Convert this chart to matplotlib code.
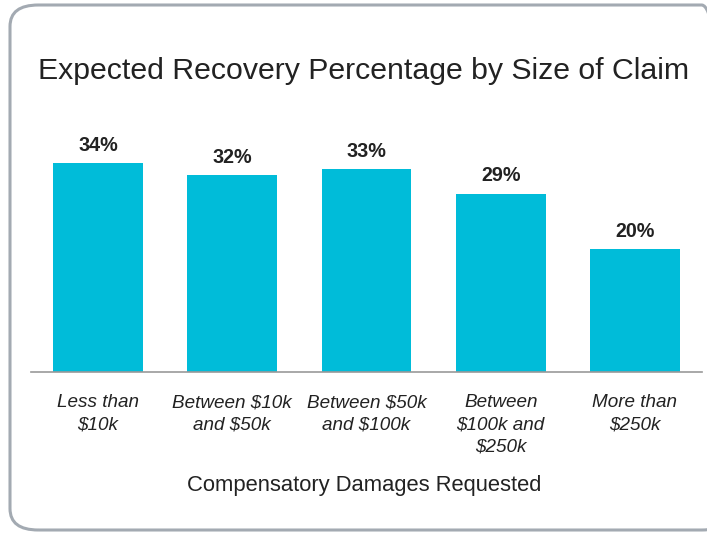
import matplotlib
matplotlib.use("Agg")
import matplotlib.pyplot as plt
from matplotlib.patches import FancyBboxPatch

categories = ["Less than\n$10k", "Between $10k\nand $50k", "Between $50k\nand $100k",
              "Between\n$100k and\n$250k", "More than\n$250k"]
recovery_pct = [34, 32, 33, 29, 20]

plt.rcParams['font.family'] = ['Liberation Sans', 'DejaVu Sans']

W, H = 707, 535
fig = plt.figure(figsize=(W / 100, H / 100), dpi=100)

# rounded frame around the whole chart (right edge runs off the picture)
frame = FancyBboxPatch((10 / W, 5 / H), 720 / W, 525 / H,
                       boxstyle="round,pad=0,rounding_size=0.04",
                       transform=fig.transFigure, fill=False,
                       edgecolor='#a3aab2', linewidth=2.2)
fig.patches.append(frame)

# axes: left 31px, right 702px, baseline at 372px, 40% at ~126px
ax = fig.add_axes([31 / W, (H - 372) / H, 671 / W, 246 / H])
x = range(len(categories))
bars = ax.bar(x, recovery_pct, width=0.67, color='#00bcd9')
ax.set_xlim(-0.5, 4.5)
ax.set_ylim(0, 40)

for b, v in zip(bars, recovery_pct):
    ax.annotate(f"{v}%", (b.get_x() + b.get_width() / 2, v), xytext=(0, 6),
                textcoords='offset points', ha='center', va='bottom',
                fontsize=14.2, fontweight='bold', color='#222222')

ax.set_xticks(list(x))
ax.set_xticklabels(categories, fontsize=13.6, style='italic', color='#222222',
                   linespacing=1.4, va='top')
ax.tick_params(axis='x', length=0, pad=16)
ax.set_yticks([])
for s in ['top', 'right', 'left']:
    ax.spines[s].set_visible(False)
ax.spines['bottom'].set_color('#999999')
ax.spines['bottom'].set_linewidth(1.2)

fig.text(364 / W, 1 - 71 / H, "Expected Recovery Percentage by Size of Claim",
         ha='center', va='center', fontsize=21.8, color='#222222')
fig.text(364 / W, 1 - 485 / H, "Compensatory Damages Requested",
         ha='center', va='center', fontsize=15.8, color='#222222')

fig.savefig("out.png", dpi=100, facecolor='white')
